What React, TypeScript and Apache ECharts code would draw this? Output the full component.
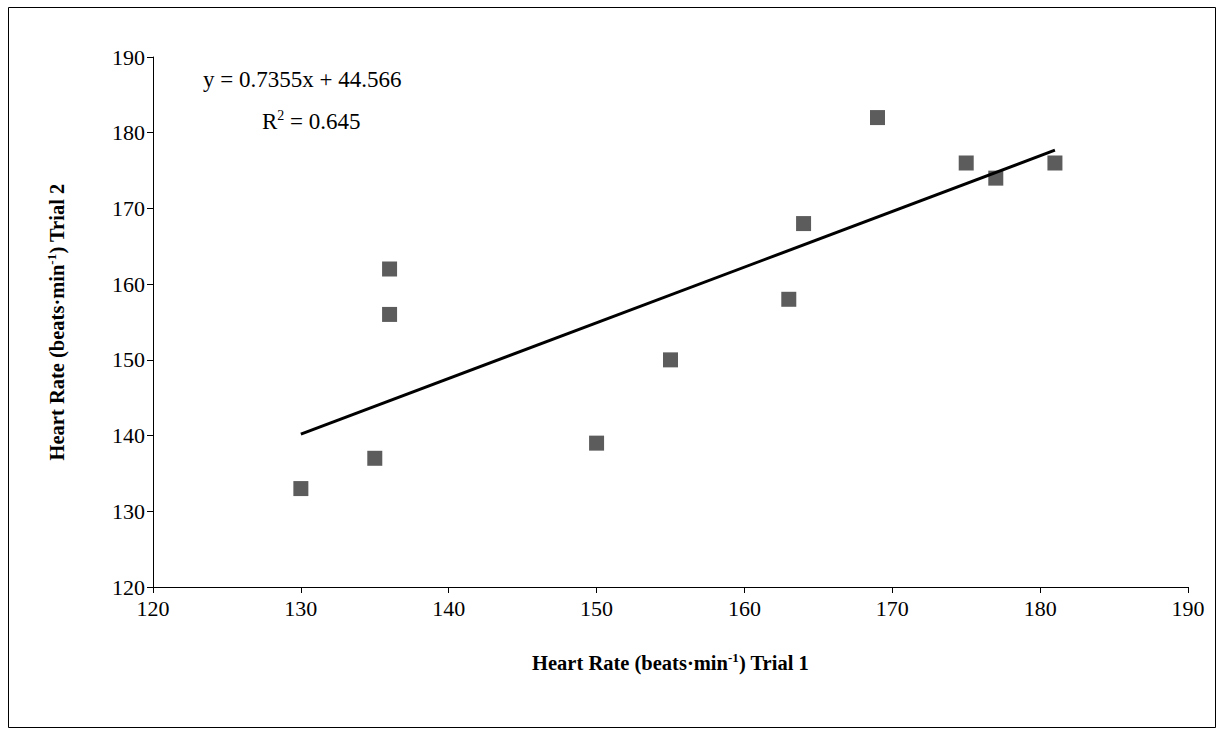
import { useEffect, useRef } from 'react'
import * as echarts from 'echarts'

const trial1 = [130, 135, 136, 136, 150, 155, 163, 164, 169, 175, 177, 181]
const trial2 = [133, 137, 162, 156, 139, 150, 158, 168, 182, 176, 174, 176]
const slope = 0.7355
const intercept = 44.566
const fitRange = [130, 181]

const font = '"Liberation Serif", "DejaVu Serif", serif'

export default function App() {
  const chartRef = useRef<HTMLDivElement>(null)

  useEffect(() => {
    if (!chartRef.current) return
    document.body.style.margin = '0'
    const chart = echarts.init(chartRef.current, null, { renderer: 'svg' })

    const points = trial1.map((x, i) => [x, trial2[i]])
    const fit = fitRange.map((x) => [x, slope * x + intercept])
    const sup = { fontSize: 13, verticalAlign: 'top', padding: [0, 0, 11, 0], fontFamily: font, fontWeight: 'bold', color: '#000' }
    const title = { fontSize: 20.5, fontWeight: 'bold', fontFamily: font, color: '#000' }

    chart.setOption({
      animation: false,
      backgroundColor: '#fff',
      textStyle: { fontFamily: font },
      grid: { left: 153, right: 36, top: 57, bottom: 149 },
      xAxis: {
        type: 'value', min: 120, max: 190, interval: 10,
        axisLine: { lineStyle: { color: '#000' } },
        axisTick: { lineStyle: { color: '#000' }, length: 6 },
        axisLabel: { color: '#000', fontSize: 22, fontFamily: font, margin: 10 },
        splitLine: { show: false },
        name: '{b|Heart Rate (beats·min}{s|-1}{b|) Trial 1}',
        nameLocation: 'middle', nameGap: 64,
        nameTextStyle: { rich: { b: title, s: sup } },
      },
      yAxis: {
        type: 'value', min: 120, max: 190, interval: 10,
        axisLine: { show: true, lineStyle: { color: '#000' } },
        axisTick: { show: true, lineStyle: { color: '#000' }, length: 6 },
        axisLabel: { color: '#000', fontSize: 22, fontFamily: font, margin: 8 },
        splitLine: { show: false },
        name: '{b|Heart Rate (beats·min}{s|-1}{b|) Trial 2}',
        nameLocation: 'middle', nameGap: 84,
        nameTextStyle: { rich: { b: title, s: sup } },
      },
      series: [
        {
          type: 'scatter', data: points, symbol: 'rect', symbolSize: 15,
          itemStyle: { color: '#333' },
        },
        {
          type: 'line', data: fit, symbol: 'none',
          lineStyle: { color: '#000', width: 3 },
        },
      ],
      graphic: [
        {
          type: 'rect', shape: { x: 8.5, y: 7.5, width: 1207, height: 720 },
          style: { fill: 'none', stroke: '#000', lineWidth: 1 },
        },
        {
          type: 'text', left: 203, top: 68,
          style: { text: 'y = 0.7355x + 44.566', fontSize: 23, fontFamily: font, fill: '#000' },
        },
        {
          type: 'text', left: 262, top: 108,
          style: {
            text: '{n|R}{s|2}{n| = 0.645}',
            rich: {
              n: { fontSize: 23, fontFamily: font, color: '#000' },
              s: { fontSize: 14, fontFamily: font, color: '#000', verticalAlign: 'top', padding: [0, 0, 12, 0] },
            },
          },
        },
      ],
    })

    return () => chart.dispose()
  }, [])

  return <div ref={chartRef} style={{ width: 1224, height: 736 }} />
}
